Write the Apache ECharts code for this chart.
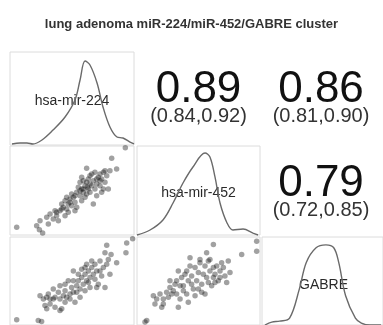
<!DOCTYPE html>
<html><head><meta charset="utf-8">
<script src="https://cdn.jsdelivr.net/npm/echarts@6/dist/echarts.min.js"></script>
<style>html,body{margin:0;padding:0;background:#fff}#c{width:383px;height:325px}</style>
</head><body><div id="c"></div>
<script>
// ---- data (relative expression units 0-100 per variable) ----
const titleText = 'lung adenoma miR-224/miR-452/GABRE cluster';
const varNames = ['hsa-mir-224', 'hsa-mir-452', 'GABRE'];
const corrValues = ['0.89', '0.86', '0.79'];          // (224,452), (224,GABRE), (452,GABRE)
const corrCI = ['(0.84,0.92)', '(0.81,0.90)', '(0.72,0.85)'];

const density224 = [[1.6,1.1],[8.1,2.2],[13.7,2.2],[18.5,1.1],[25.8,5.4],[34.7,16.1],[44.4,30.1],[52.4,48.4],[56.5,69.9],[60.5,90.3],[64.5,86.0],[70.2,66.7],[75.0,40.9],[80.6,19.4],[86.3,8.6],[91.1,7.5],[96.8,3.2],[100,1.1]];
const density452 = [[0,0],[10.6,5.6],[21.1,16.9],[29.3,36.0],[37.4,58.4],[45.5,76.4],[55.3,92.1],[59.3,87.6],[63.4,65.2],[67.5,36.0],[73.2,13.5],[78.0,5.6],[86.2,6.7],[94.3,2.2],[98.4,0]];
const densityGABRE = [[2.4,0],[8.1,3.3],[14.6,4.4],[22.8,7.8],[30.9,41.1],[36.6,71.1],[44.7,87.8],[52.8,91.1],[59.3,87.8],[63.4,71.1],[69.1,33.3],[77.2,7.8],[82.1,2.2],[89.4,0],[98.4,0]];

// x = hsa-mir-224, y = hsa-mir-452
const scatter224_452 = [[5.4,8.6],[23.7,6.0],[26.3,2.2],[82.0,86.1],[86.0,74.2],[93,98],[30.9,12.4],[24.2,16.1],[34.9,18.0],[37.6,21.7],[32.3,23.6],[36.3,27.3],[40.3,27.3],[43.0,31.1],[45.7,29.2],[41.7,34.8],[44.4,38.6],[47.0,34.8],[49.7,33.0],[48.4,40.4],[51.1,42.3],[52.4,36.7],[53.8,31.1],[49.7,46.1],[53.8,47.9],[56.5,44.2],[57.8,51.7],[59.1,47.9],[55.1,53.6],[60.5,55.4],[61.8,59.2],[63.2,51.7],[64.5,47.9],[65.9,55.4],[67.2,61.0],[68.5,51.7],[69.9,57.3],[71.2,64.8],[72.6,68.5],[73.9,62.9],[75.3,70.4],[76.6,59.2],[78.0,66.7],[79.3,51.7],[80.6,72.3],[69.9,44.2],[67.2,34.8],[61.8,74.9],[59.1,61.0],[56.5,59.2],[64.5,66.7],[72.6,55.4],[75.3,51.7],[47.0,25.5],[44.4,21.7],[39.0,16.1],[29.6,19.9],[21.5,10.5],[52.4,27.3],[57.8,38.6],[60.5,42.3],[45.7,42.3],[63.2,62.9],[65.9,68.5],[57.8,64.8],[68.5,70.4],[76.6,72.3],[73.9,47.9],[61.8,46.1],[59.1,51.7],[62.4,53.6],[56.5,49.8],[64.5,57.3],[52.4,44.2],[48.4,36.7],[41.7,29.2],[37.6,25.5],[69.9,62.9],[72.6,61.0]];
// x = hsa-mir-224, y = GABRE
const scatter224_GABRE = [[5.4,6.0],[22.8,5.2],[25.5,4.1],[94.1,93.3],[98.9,98.1],[93.5,82.0],[78.0,90.6],[76.6,82.0],[81.5,80.1],[86.0,70.8],[51.1,61.4],[24.2,33.3],[28.2,22.1],[30.9,35.2],[32.3,29.6],[34.9,40.8],[36.3,31.5],[39.0,37.1],[40.3,29.6],[41.7,18.4],[43.0,33.3],[44.4,39.0],[45.7,31.5],[48.4,35.2],[49.7,42.7],[51.1,37.1],[52.4,25.8],[47.0,50.2],[53.8,44.6],[55.1,50.2],[56.5,40.8],[57.8,53.9],[59.1,46.4],[60.5,57.7],[61.8,68.9],[61.8,50.2],[63.2,61.4],[64.5,53.9],[65.9,65.2],[67.2,57.7],[68.5,68.9],[69.9,61.4],[71.2,46.4],[72.6,72.7],[73.9,55.8],[75.3,65.2],[76.6,42.7],[78.0,68.9],[79.3,74.5],[80.6,57.7],[69.9,42.7],[64.5,42.7],[60.5,39.0],[56.5,31.5],[36.3,20.2],[32.3,24.0],[29.6,18.4],[40.3,16.5],[44.4,25.8],[48.4,29.6],[53.8,37.1],[57.8,63.3],[63.2,48.3],[68.5,52.1],[72.6,61.4],[65.9,72.7],[60.5,65.2],[55.1,57.7],[51.1,50.2],[44.4,46.4],[40.3,44.6],[34.9,29.6],[26.9,29.6],[29.6,31.5]];
// x = hsa-mir-452, y = GABRE
const scatter452_GABRE = [[7.9,5.2],[6.5,3.4],[62.1,91.4],[56.6,82.0],[85.1,80.1],[97.3,95.1],[97.3,83.9],[33.6,20.2],[41.7,25.8],[20.1,20.2],[13.3,33.3],[14.6,24.0],[16.0,29.6],[21.4,29.6],[24.1,37.1],[25.5,31.5],[26.8,42.7],[28.2,35.2],[29.5,39.0],[30.9,46.4],[32.2,35.2],[33.6,61.4],[35.0,44.6],[36.3,53.9],[37.7,39.0],[39.0,57.7],[40.4,35.2],[41.7,50.2],[43.1,67.0],[44.4,55.8],[45.8,40.8],[47.2,65.2],[48.5,50.2],[49.9,59.6],[51.2,70.8],[52.6,46.4],[53.9,57.7],[55.3,67.0],[56.6,53.9],[58.0,72.7],[59.3,61.4],[60.7,44.6],[62.1,65.2],[63.4,57.7],[64.8,67.0],[66.1,50.2],[67.5,61.4],[68.8,70.8],[70.2,65.2],[71.5,55.8],[72.9,48.3],[74.2,72.7],[75.6,59.6],[51.2,74.5],[40.4,61.4],[32.2,50.2],[26.8,50.2],[44.4,46.4],[49.9,40.8],[47.2,33.3],[58.0,48.3],[63.4,48.3],[35.0,29.6],[21.4,24.0],[18.7,35.2],[52.6,37.1],[59.3,74.5],[43.1,76.4],[37.7,44.6],[55.3,35.2],[62.1,53.9],[67.5,53.9]];

// ---- layout ----
const colL = [10, 137, 262], colW = [124, 123, 123];
const rowT = [52, 146, 237], rowH = [93, 89, 90];
const FONT = "'Liberation Sans', Arial, sans-serif";

const chart = echarts.init(document.getElementById('c'), null, {renderer: 'canvas'});
const grids = [], xAxes = [], yAxes = [], series = [];
function addPanel(r, c, kind, data) {
  const i = grids.length;
  grids.push({left: colL[c], top: rowT[r], width: colW[c], height: rowH[r], show: true,
    borderColor: '#dcdcdc', borderWidth: 1, backgroundColor: 'transparent', containLabel: false});
  xAxes.push({gridIndex: i, type: 'value', min: 0, max: 100, show: false});
  yAxes.push({gridIndex: i, type: 'value', min: 0, max: 100, show: false});
  if (kind === 'density') {
    series.push({type: 'line', xAxisIndex: i, yAxisIndex: i, data: data, smooth: 0.35,
      showSymbol: false, clip: false, lineStyle: {color: '#6a6a6a', width: 1.4}, silent: true});
  } else {
    series.push({type: 'scatter', xAxisIndex: i, yAxisIndex: i, data: data, symbolSize: 5.5,
      clip: false, itemStyle: {color: 'rgba(20,20,20,0.5)'}, silent: true});
  }
}
addPanel(0, 0, 'density', density224);
addPanel(1, 0, 'scatter', scatter224_452);
addPanel(1, 1, 'density', density452);
addPanel(2, 0, 'scatter', scatter224_GABRE);
addPanel(2, 1, 'scatter', scatter452_GABRE);
addPanel(2, 2, 'density', densityGABRE);

const graphic = [];
// diagonal labels
[[0,0],[1,1],[2,2]].forEach(([r, c], k) => {
  graphic.push({type: 'text', x: colL[c] + colW[c] / 2, y: rowT[r] + rowH[r] / 2 + 3,
    style: {text: varNames[k], fill: '#2a2a2a', font: '14px ' + FONT, align: 'center', verticalAlign: 'middle'}});
});
// correlation panels
[[0,1],[0,2],[1,2]].forEach(([r, c], k) => {
  const cx = colL[c] + (c === 2 ? 118 : colW[c]) / 2;
  graphic.push({type: 'text', x: cx, y: rowT[r] + 38,
    style: {text: corrValues[k], fill: '#111', font: '44px ' + FONT, align: 'center', verticalAlign: 'middle'}});
  graphic.push({type: 'text', x: cx, y: rowT[r] + 64,
    style: {text: corrCI[k], fill: '#333', font: '20px ' + FONT, align: 'center', verticalAlign: 'middle'}});
});

chart.setOption({
  animation: false,
  backgroundColor: '#fff',
  title: {text: titleText, left: 'center', top: 13,
    textStyle: {fontSize: 13, fontWeight: 'bold', color: '#333', fontFamily: FONT}},
  grid: grids, xAxis: xAxes, yAxis: yAxes, series: series, graphic: graphic
});
</script></body></html>
